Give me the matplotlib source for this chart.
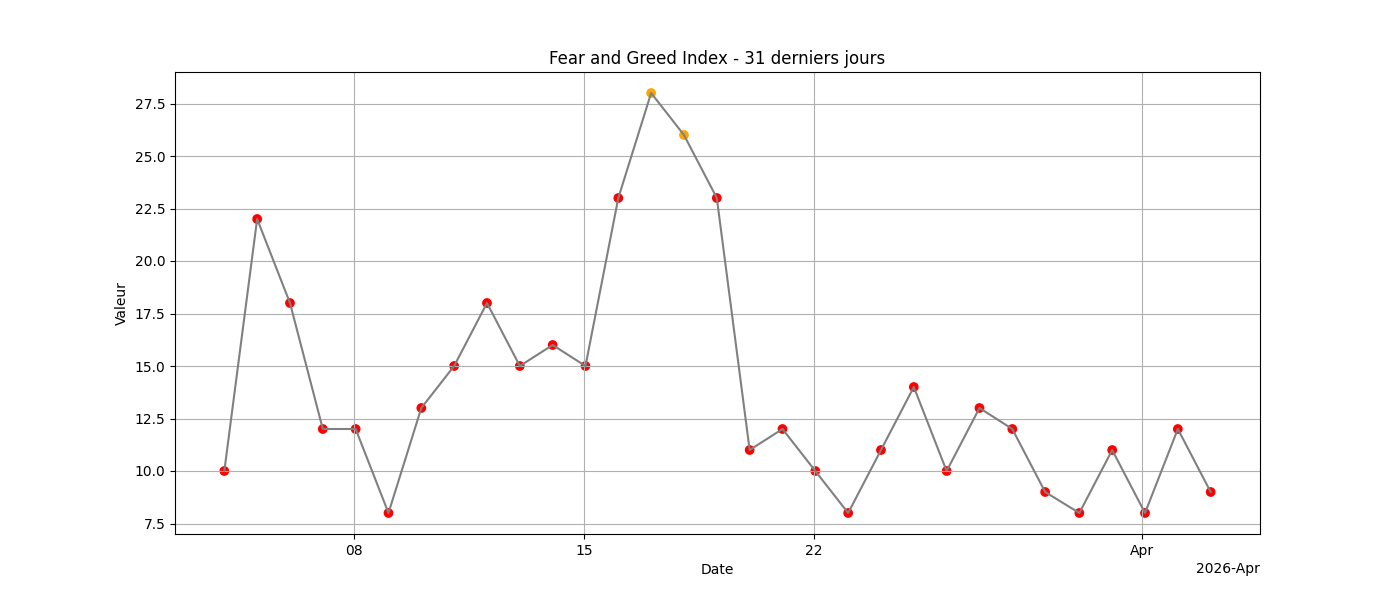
import pandas as pd
import matplotlib
matplotlib.use("Agg")
import matplotlib.pyplot as plt
import matplotlib.dates as mdates

# daily values, timestamps at 00:00 UTC shown in Paris local time
start_date = "2026-03-04"
values = [10, 22, 18, 12, 12, 8, 13, 15, 18, 15, 16, 15, 23, 28, 26, 23,
          11, 12, 10, 8, 11, 14, 10, 13, 12, 9, 8, 11, 8, 12, 9]

dates = (pd.date_range(start_date, periods=len(values), freq="D", tz="UTC")
         .tz_convert("Europe/Paris").tz_localize(None))


def zone_color(v):
    if v < 25:
        return "red"
    elif v < 45:
        return "orange"
    elif v < 55:
        return "yellow"
    elif v < 75:
        return "lightgreen"
    return "green"


colors = [zone_color(v) for v in values]

fig, ax = plt.subplots(figsize=(14, 6), dpi=100)
ax.scatter(dates, values, c=colors)
ax.plot(dates, values, color="gray")

locator = mdates.DayLocator(bymonthday=[1, 8, 15, 22])
ax.xaxis.set_major_locator(locator)
ax.xaxis.set_major_formatter(mdates.ConciseDateFormatter(locator))

ax.set_title("Fear and Greed Index - 31 derniers jours")
ax.set_xlabel("Date")
ax.set_ylabel("Valeur")
ax.grid(True)

fig.savefig("out.png")
